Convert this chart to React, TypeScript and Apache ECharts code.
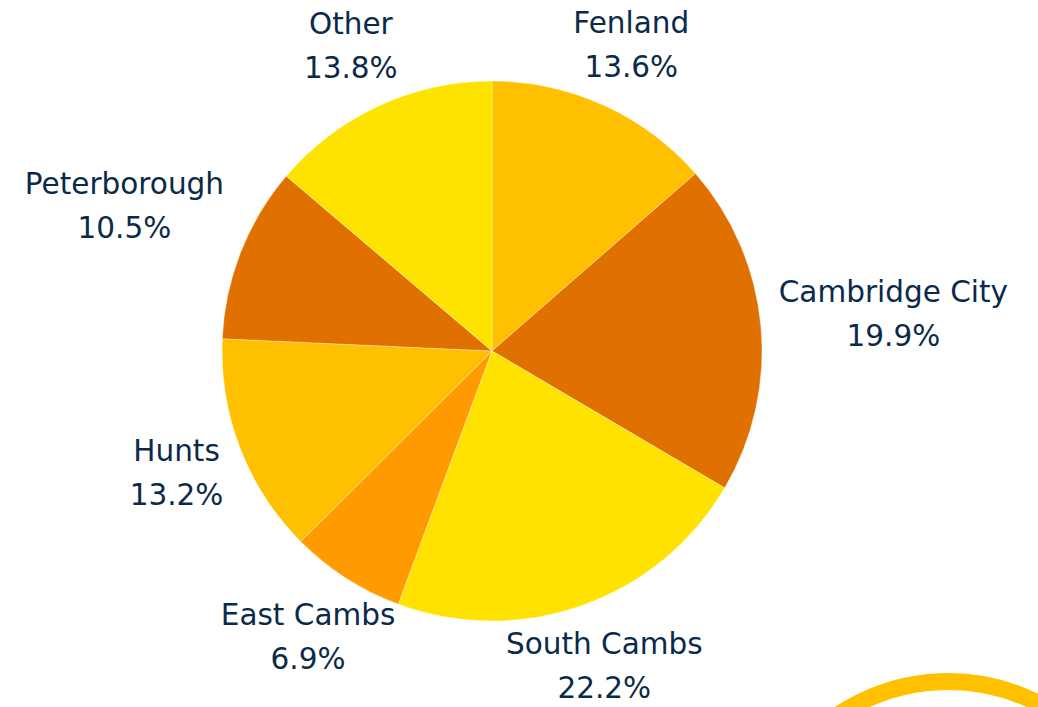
import React, { useEffect, useRef } from "react";
import * as echarts from "echarts";

const categories = ["Fenland", "Cambridge City", "South Cambs", "East Cambs", "Hunts", "Peterborough", "Other"];
const values = [13.6, 19.9, 22.2, 6.9, 13.2, 10.5, 13.8];
const colors = ["#FFC000", "#E07000", "#FFE200", "#FF9A00", "#FFC000", "#E07000", "#FFE300"];

const CX = 492;
const CY = 351;
const R = 270;
const GAP = 18;
const FONT_SIZE = 29.5;
const LINE_H = 44;
const FONT_FAMILY = "DejaVu Sans";

export default function App() {
  const ref = useRef<HTMLDivElement>(null);
  useEffect(() => {
    if (!ref.current) return;
    const chart = echarts.init(ref.current, undefined, { renderer: "svg" });
    const total = values.reduce((a, b) => a + b, 0);
    const mids: number[] = [];
    let acc = 0;
    values.forEach((v) => {
      mids.push(((acc + v / 2) / total) * Math.PI * 2);
      acc += v;
    });
    const fmt = (i: number) => [categories[i], `${values[i].toFixed(1)}%`];
    const cnv = document.createElement("canvas");
    const ctx = cnv.getContext("2d")!;
    ctx.font = `${FONT_SIZE}px "${FONT_FAMILY}"`;
    const widths = categories.map((_, i) =>
      Math.max(...fmt(i).map((s) => ctx.measureText(s).width))
    );
    chart.setOption({
      animation: false,
      backgroundColor: "#ffffff",
      graphic: [
        {
          type: "circle",
          shape: { cx: 948, cy: 878, r: 196.5 },
          style: { fill: "none", stroke: "#FFC000", lineWidth: 17 },
          silent: true,
        },
      ],
      series: [
        {
          type: "pie",
          center: [CX, CY],
          radius: [0, R],
          startAngle: 90,
          clockwise: true,
          data: categories.map((c, i) => ({
            name: c,
            value: values[i],
            itemStyle: { color: colors[i] },
          })),
          itemStyle: { borderColor: "rgba(255,255,255,0.6)", borderWidth: 0.6 },
          label: {
            show: true,
            position: "outside",
            formatter: (p: any) => fmt(p.dataIndex).join("\n"),
            color: "#0B2A4A",
            fontFamily: FONT_FAMILY,
            fontSize: FONT_SIZE,
            lineHeight: LINE_H,
            align: "center",
            overflow: "none",
          },
          labelLine: { show: false },
          labelLayout: (params: any) => {
            const a = mids[params.dataIndex];
            const ux = Math.sin(a);
            const uy = -Math.cos(a);
            const w = widths[params.dataIndex];
            const h = LINE_H * 2;
            const ex = Math.abs(ux) > 1e-6 ? w / 2 / Math.abs(ux) : Infinity;
            const ey = Math.abs(uy) > 1e-6 ? h / 2 / Math.abs(uy) : Infinity;
            const t = R + GAP + Math.min(ex, ey);
            return {
              x: CX + ux * t,
              y: CY + uy * t,
              align: "center",
              verticalAlign: "middle",
            };
          },
          emphasis: { disabled: true },
        },
      ],
    });
    return () => chart.dispose();
  }, []);
  return (
    <div
      ref={ref}
      style={{ position: "fixed", left: 0, top: 0, width: 1038, height: 707 }}
    />
  );
}
